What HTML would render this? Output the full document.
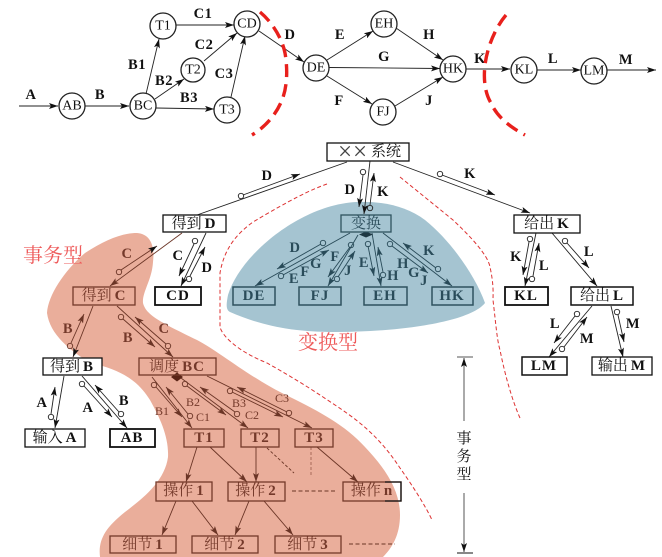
<!DOCTYPE html>
<html lang="zh"><head><meta charset="utf-8"><title>变换型与事务型结构图</title>
<style>
html,body{margin:0;padding:0;background:#fff}
svg{display:block}
.l{fill:none;stroke:#222;stroke-width:.9}
.b{fill:none;stroke:#284a58;stroke-width:.9}
.r{fill:none;stroke:#6b3526;stroke-width:.9}
.c{fill:#fff;stroke:#222;stroke-width:1.3}
.o{fill:none;stroke-width:.9}
text{font-family:"Liberation Serif","Noto Serif CJK SC",serif}
.n{font-size:14px;text-anchor:middle;dominant-baseline:central;fill:#111}
.t{font-size:14.5px;font-weight:bold;text-anchor:middle;dominant-baseline:central;fill:#111;letter-spacing:.5px}
.tb{fill:#2a4c5a}.tr{fill:#74392a}
.box{font-size:15px;text-anchor:middle;dominant-baseline:central;fill:#111}
.box tspan{font-weight:bold;letter-spacing:1px}
.boxb{fill:#2a4c5a}.boxr{fill:#74392a}
</style></head><body>
<svg xmlns="http://www.w3.org/2000/svg" width="662" height="557" viewBox="0 0 662 557">
<defs>
<marker id="ak" markerUnits="userSpaceOnUse" markerWidth="10" markerHeight="6" refX="9" refY="3" orient="auto"><path d="M0 0L9 3L0 6L2 3Z" fill="#111"/></marker>
<marker id="ab" markerUnits="userSpaceOnUse" markerWidth="10" markerHeight="6" refX="9" refY="3" orient="auto"><path d="M0 0L9 3L0 6L2 3Z" fill="#284a58"/></marker>
<marker id="ar" markerUnits="userSpaceOnUse" markerWidth="10" markerHeight="6" refX="9" refY="3" orient="auto"><path d="M0 0L9 3L0 6L2 3Z" fill="#6b3526"/></marker>
</defs>
<rect width="662" height="557" fill="#fff"/>

<!-- regions -->
<path fill="#a5c4d1" d="M356 202C300 205 240 255 228 295C226 305 226 310 230 312C260 325 290 332 335 332C400 332 470 322 485 303C475 275 450 240 425 220C405 205 380 201 356 202Z"/>
<path fill="#eaae9b" d="M137 233C150 234 155 245 153 262C152 280 142 292 143 303C146 315 160 322 197 340C220 352 250 378 290 397C320 412 345 425 365 447C385 468 400 490 400 515C400 535 392 548 383 557L100 557C98 540 105 528 125 512C145 497 165 480 168 457C169 437 160 418 150 400C140 384 125 370 90 363C70 350 50 335 47 313C48 295 65 270 85 253C105 240 122 233 137 233Z"/>
<path fill="none" stroke="#dd3333" stroke-width="1" stroke-dasharray="4 2.5" d="M327 184C310 190 290 200 253 222C235 235 224 250 220 273L220 327C222 335 235 350 267 363C285 373 305 385 323 397C350 415 375 430 400 468C412 485 425 505 432 520"/>
<path fill="none" stroke="#dd3333" stroke-width="1" stroke-dasharray="4 2.5" d="M400 177L453 220C470 236 488 255 490 267C494 285 493 295 493 300C496 325 497 340 500 350C505 375 512 400 520 418"/>

<!-- top graph -->
<g>
<path class="l" marker-end="url(#ak)" d="M19 106H58"/>
<path class="l" marker-end="url(#ak)" d="M85 106H129"/>
<path class="l" marker-end="url(#ak)" d="M146 94L159 39"/>
<path class="l" marker-end="url(#ak)" d="M155 99L184 79"/>
<path class="l" marker-end="url(#ak)" d="M156 108L214 109"/>
<path class="l" marker-end="url(#ak)" d="M176 25H234"/>
<path class="l" marker-end="url(#ak)" d="M204 61L237 33"/>
<path class="l" marker-end="url(#ak)" d="M231 97L245 36"/>
<path class="l" marker-end="url(#ak)" d="M259 31L304 62"/>
<path class="l" marker-end="url(#ak)" d="M327 60L373 31"/>
<path class="l" marker-end="url(#ak)" d="M329 67.500L440 68.500"/>
<path class="l" marker-end="url(#ak)" d="M327 76L372 104"/>
<path class="l" marker-end="url(#ak)" d="M396 28L443 60"/>
<path class="l" marker-end="url(#ak)" d="M395 106L443 77"/>
<path class="l" marker-end="url(#ak)" d="M466 69H510"/>
<path class="l" marker-end="url(#ak)" d="M537 70H581"/>
<path class="l" marker-end="url(#ak)" d="M607 70H656"/>
<circle class="c" cx="72" cy="106" r="13"/><text class="n" x="72" y="106">AB</text>
<circle class="c" cx="143" cy="106" r="13"/><text class="n" x="143" y="106">BC</text>
<circle class="c" cx="163" cy="26" r="13"/><text class="n" x="163" y="26">T1</text>
<circle class="c" cx="193" cy="70" r="12"/><text class="n" x="193" y="70">T2</text>
<circle class="c" cx="227" cy="110" r="13"/><text class="n" x="227" y="110">T3</text>
<circle class="c" cx="247" cy="24" r="13"/><text class="n" x="247" y="24">CD</text>
<circle class="c" cx="316" cy="68" r="13"/><text class="n" x="316" y="68">DE</text>
<circle class="c" cx="384" cy="24" r="13"/><text class="n" x="384" y="24">EH</text>
<circle class="c" cx="383" cy="112" r="13"/><text class="n" x="383" y="112">FJ</text>
<circle class="c" cx="453" cy="69" r="13"/><text class="n" x="453" y="69">HK</text>
<circle class="c" cx="524" cy="70" r="13"/><text class="n" x="524" y="70">KL</text>
<circle class="c" cx="594" cy="71" r="13"/><text class="n" x="594" y="71">LM</text>
<g>
<text class="t" x="31" y="95">A</text><text class="t" x="100" y="95">B</text>
<text class="t" x="137" y="65">B1</text><text class="t" x="164" y="81">B2</text><text class="t" x="189" y="98">B3</text>
<text class="t" x="203" y="14">C1</text><text class="t" x="204" y="45">C2</text><text class="t" x="224" y="74">C3</text>
<text class="t" x="290" y="35">D</text><text class="t" x="340" y="35">E</text><text class="t" x="384" y="57">G</text><text class="t" x="339" y="101">F</text>
<text class="t" x="429" y="35">H</text><text class="t" x="429" y="101">J</text><text class="t" x="480" y="59">K</text><text class="t" x="553" y="59">L</text><text class="t" x="626" y="60">M</text>
</g>
</g>
<path fill="none" stroke="#e8201c" stroke-width="3.4" stroke-dasharray="13 7" d="M260 12C272 22 282 38 285 53C288 70 287 88 282 100C276 115 265 127 252 135"/>
<path fill="none" stroke="#e8201c" stroke-width="3.4" stroke-dasharray="13 7" d="M506 15C495 28 487 48 485 65C483 82 486 95 491 103C497 117 510 127 525 135"/>

<!-- top-level edges -->
<g>
<path class="l" d="M347 162L197 215"/>
<path class="l" marker-end="url(#ak)" d="M393 162L530 213"/>
<path class="l" marker-end="url(#ak)" d="M370 161L364 214"/>
<path class="l" marker-end="url(#ak)" d="M243 195L300 174"/>
<circle class="o" stroke="#222" cx="241" cy="196" r="2.700"/>
<path class="l" marker-end="url(#ak)" d="M442 175L495 195"/>
<circle class="o" stroke="#222" cx="440" cy="174" r="2.700"/>
<path class="l" marker-end="url(#ak)" d="M363 175L359 207"/>
<circle class="o" stroke="#222" cx="363" cy="172" r="2.700"/>
<path class="l" marker-end="url(#ak)" d="M370 205L374 173"/>
<circle class="o" stroke="#222" cx="370" cy="208" r="2.700"/>
<text class="t" x="267" y="176">D</text><text class="t" x="470" y="174">K</text><text class="t" x="350" y="190">D</text><text class="t" x="383" y="192">K</text>
</g>

<!-- transform group -->
<g>
<path class="b" marker-end="url(#ab)" d="M350 233L255 286"/>
<path class="b" marker-end="url(#ab)" d="M358 235L328 286"/>
<path class="b" marker-end="url(#ab)" d="M372 233L381 286"/>
<path class="b" marker-end="url(#ab)" d="M383 233L452 286"/>
<path class="b" marker-end="url(#ab)" d="M321 244L277 269"/><circle class="o" stroke="#284a58" cx="323" cy="243" r="2.700"/>
<path class="b" marker-end="url(#ab)" d="M283 275L329 250"/><circle class="o" stroke="#284a58" cx="281" cy="276" r="2.700"/>
<path class="b" marker-end="url(#ab)" d="M350 247L328 277"/><circle class="o" stroke="#284a58" cx="351" cy="245" r="2.700"/>
<path class="b" marker-end="url(#ab)" d="M338 277L355 251"/><circle class="o" stroke="#284a58" cx="337" cy="279" r="2.700"/>
<path class="b" marker-end="url(#ab)" d="M368 246L374 276"/><circle class="o" stroke="#284a58" cx="368" cy="244" r="2.700"/>
<path class="b" marker-end="url(#ab)" d="M383 272L378 247"/><circle class="o" stroke="#284a58" cx="383" cy="275" r="2.700"/>
<path class="b" marker-end="url(#ab)" d="M436 268L403 243"/><circle class="o" stroke="#284a58" cx="438" cy="269" r="2.700"/>
<path class="b" marker-end="url(#ab)" d="M392 246L428 273"/><circle class="o" stroke="#284a58" cx="390" cy="244" r="2.700"/>
<path fill="#1e3844" d="M359 234.500L366 231.500L373 234.500L366 237.500Z"/>
<text class="t tb" x="295" y="248">D</text><text class="t tb" x="316" y="264">G</text><text class="t tb" x="305" y="272">F</text><text class="t tb" x="294" y="279">E</text>
<text class="t tb" x="335" y="257">F</text><text class="t tb" x="348" y="271">J</text><text class="t tb" x="364" y="263">E</text><text class="t tb" x="393" y="276">H</text>
<text class="t tb" x="403" y="264">H</text><text class="t tb" x="414" y="273">G</text><text class="t tb" x="424" y="281">J</text><text class="t tb" x="429" y="251">K</text>
</g>

<!-- transaction group -->
<g>
<path class="r" marker-end="url(#ar)" d="M182 233L110 286"/>
<path class="l" marker-end="url(#ak)" d="M206 233L181 286"/>
<path class="r" marker-end="url(#ak)" d="M121 270L157 246"/><circle class="o" stroke="#6b3526" cx="119" cy="272" r="2.700"/>
<path class="l" marker-end="url(#ak)" d="M194 244L179 276"/><circle class="o" stroke="#222" cx="195" cy="241" r="2.700"/>
<path class="l" marker-end="url(#ak)" d="M190 276L205 247"/><circle class="o" stroke="#222" cx="189" cy="279" r="2.700"/>
<path class="r" marker-end="url(#ak)" d="M93 306L73 357"/>
<path class="r" marker-end="url(#ar)" d="M117 306L173 357"/>
<path class="r" marker-end="url(#ar)" d="M71 343L84 314"/><circle class="o" stroke="#6b3526" cx="70" cy="346" r="2.700"/>
<path class="r" marker-end="url(#ar)" d="M123 319L155 347"/><circle class="o" stroke="#6b3526" cx="121" cy="317" r="2.700"/>
<path class="r" marker-end="url(#ar)" d="M166 344L135 317"/><circle class="o" stroke="#6b3526" cx="168" cy="346" r="2.700"/>
<path class="l" marker-end="url(#ak)" d="M64 376L55 428"/>
<path class="l" marker-end="url(#ak)" d="M82 376L127 428"/>
<path class="l" marker-end="url(#ak)" d="M51 414L55 387"/><circle class="o" stroke="#222" cx="51" cy="417" r="2.700"/>
<path class="l" marker-end="url(#ak)" d="M84 386L112 417"/><circle class="o" stroke="#222" cx="82" cy="384" r="2.700"/>
<path class="l" marker-end="url(#ak)" d="M119 412L95 385"/><circle class="o" stroke="#222" cx="121" cy="414" r="2.700"/>
<path class="r" marker-end="url(#ar)" d="M152 377L192 428"/>
<path class="r" marker-end="url(#ar)" d="M177 375L248 428"/>
<path class="r" marker-end="url(#ar)" d="M207 376L312 428"/>
<path class="r" marker-end="url(#ar)" d="M156 387L182 417"/><circle class="o" stroke="#6b3526" cx="154" cy="385" r="2.700"/>
<path class="r" marker-end="url(#ar)" d="M188 414L166 387"/><circle class="o" stroke="#6b3526" cx="190" cy="416" r="2.700"/>
<path class="r" marker-end="url(#ar)" d="M187 386L226 415"/><circle class="o" stroke="#6b3526" cx="185" cy="384" r="2.700"/>
<path class="r" marker-end="url(#ar)" d="M235 412L200 387"/><circle class="o" stroke="#6b3526" cx="237" cy="414" r="2.700"/>
<path class="r" marker-end="url(#ar)" d="M232 392L283 417"/><circle class="o" stroke="#6b3526" cx="230" cy="391" r="2.700"/>
<path class="r" marker-end="url(#ar)" d="M287 412L237 387"/><circle class="o" stroke="#6b3526" cx="289" cy="413" r="2.700"/>
<path fill="#5a2416" d="M171 377L177 372.500L183 377L177 381.500Z"/>
<path class="r" marker-end="url(#ar)" d="M197 447L186 482"/>
<path class="r" marker-end="url(#ar)" d="M210 447L247 482"/>
<path class="r" marker-end="url(#ar)" d="M256 447V482"/>
<path class="r" stroke-dasharray="3 2" d="M267 448L294 473"/>
<path fill="none" stroke="#c98c7a" stroke-width="2" stroke-dasharray="3 2" d="M311 447V475"/>
<path class="r" marker-end="url(#ar)" d="M317 447L358 482"/>
<path class="r" marker-end="url(#ar)" d="M176 501L162 535"/>
<path class="r" marker-end="url(#ar)" d="M192 501L218 535"/>
<path class="r" marker-end="url(#ar)" d="M249 501L235 535"/>
<path class="r" marker-end="url(#ar)" d="M264 501L293 535"/>
<path class="r" stroke-dasharray="4 2.500" d="M292 491H335"/>
<path class="r" stroke-dasharray="4 2.500" d="M349 544H395"/>
<text class="t tr" x="127" y="254">C</text><text class="t" x="178" y="256">C</text><text class="t" x="207" y="268">D</text>
<text class="t tr" x="68" y="329">B</text><text class="t tr" x="128" y="338">B</text><text class="t tr" x="164" y="329">C</text>
<text class="t" x="42" y="403">A</text><text class="t" x="88" y="408">A</text><text class="t" x="124" y="401">B</text>
<text class="n tr" style="font-size:12px" x="162" y="411">B1</text><text class="n tr" style="font-size:12px" x="193" y="402">B2</text><text class="n tr" style="font-size:12px" x="203" y="417">C1</text>
<text class="n tr" style="font-size:12px" x="239" y="403">B3</text><text class="n tr" style="font-size:12px" x="252" y="415">C2</text><text class="n tr" style="font-size:12px" x="282" y="398">C3</text>
</g>

<!-- right branch -->
<g>
<path class="l" marker-end="url(#ak)" d="M536 233L525 286"/>
<path class="l" marker-end="url(#ak)" d="M552 233L597 286"/>
<path class="l" marker-end="url(#ak)" d="M529 242L523 275"/><circle class="o" stroke="#222" cx="530" cy="239" r="2.700"/>
<path class="l" marker-end="url(#ak)" d="M533 276L539 243"/><circle class="o" stroke="#222" cx="532" cy="279" r="2.700"/>
<path class="l" marker-end="url(#ak)" d="M567 243L589 268"/><circle class="o" stroke="#222" cx="565" cy="241" r="2.700"/>
<path class="l" marker-end="url(#ak)" d="M592 306L549 357"/>
<path class="l" marker-end="url(#ak)" d="M611 306L623 357"/>
<path class="l" marker-end="url(#ak)" d="M575 316L554 343"/><circle class="o" stroke="#222" cx="577" cy="314" r="2.700"/>
<path class="l" marker-end="url(#ak)" d="M564 347L587 317"/><circle class="o" stroke="#222" cx="562" cy="349" r="2.700"/>
<path class="l" marker-end="url(#ak)" d="M618 315L624 342"/><circle class="o" stroke="#222" cx="617" cy="312" r="2.700"/>
<text class="t" x="516" y="257">K</text><text class="t" x="544" y="266">L</text><text class="t" x="589" y="252">L</text><text class="t" x="555" y="324">L</text><text class="t" x="587" y="339">M</text><text class="t" x="633" y="324">M</text>
</g>

<!-- boxes -->
<g stroke-linejoin="miter">
<rect x="327" y="143" width="82" height="18" fill="#fff" stroke="#111" stroke-width="1.300"/><text class="box" x="345" y="152" style="font-size:25px;fill:#444">×</text><text class="box" x="360" y="152" style="font-size:25px;fill:#444">×</text><text class="box" x="386" y="152">系统</text>
<rect x="341" y="215" width="50" height="17" fill="none" stroke="#2e525f" stroke-width="1.300"/><text class="box boxb" x="366" y="224">变换</text>
<rect x="233" y="287" width="42" height="18" fill="none" stroke="#2e525f" stroke-width="1.500"/><text class="box boxb" x="254" y="296"><tspan>DE</tspan></text>
<rect x="299" y="287" width="42" height="18" fill="none" stroke="#2e525f" stroke-width="1.500"/><text class="box boxb" x="320" y="296"><tspan>FJ</tspan></text>
<rect x="364" y="287" width="43" height="18" fill="none" stroke="#2e525f" stroke-width="1.500"/><text class="box boxb" x="385" y="296"><tspan>EH</tspan></text>
<rect x="432" y="287" width="41" height="18" fill="none" stroke="#2e525f" stroke-width="1.500"/><text class="box boxb" x="452" y="296"><tspan>HK</tspan></text>
<rect x="163" y="215" width="63" height="17" fill="#fff" stroke="#111" stroke-width="1.300"/><text class="box" x="194" y="224">得到<tspan dx="3">D</tspan></text>
<rect x="155" y="287" width="46" height="18" fill="#fff" stroke="#111" stroke-width="1.800"/><text class="box" x="178" y="296"><tspan>CD</tspan></text>
<rect x="73" y="287" width="62" height="18" fill="none" stroke="#74392a" stroke-width="1.300"/><text class="box boxr" x="104" y="296">得到<tspan dx="3">C</tspan></text>
<rect x="43" y="358" width="59" height="17" fill="#fff" stroke="#111" stroke-width="1.300"/><text class="box" x="72" y="367">得到<tspan dx="3">B</tspan></text>
<rect x="139" y="358" width="77" height="17" fill="none" stroke="#74392a" stroke-width="1.300"/><text class="box boxr" x="177" y="367">调度<tspan dx="3">BC</tspan></text>
<rect x="25" y="429" width="60" height="18" fill="#fff" stroke="#111" stroke-width="1.300"/><text class="box" x="55" y="438">输入<tspan dx="3">A</tspan></text>
<rect x="110" y="429" width="45" height="18" fill="#fff" stroke="#111" stroke-width="1.800"/><text class="box" x="132" y="438"><tspan>AB</tspan></text>
<rect x="184" y="429" width="40" height="18" fill="none" stroke="#74392a" stroke-width="1.300"/><text class="box boxr" x="204" y="438"><tspan>T1</tspan></text>
<rect x="241" y="429" width="38" height="18" fill="none" stroke="#74392a" stroke-width="1.300"/><text class="box boxr" x="260" y="438"><tspan>T2</tspan></text>
<rect x="295" y="429" width="38" height="18" fill="none" stroke="#74392a" stroke-width="1.300"/><text class="box boxr" x="314" y="438"><tspan>T3</tspan></text>
<rect x="156" y="482" width="56" height="19" fill="none" stroke="#74392a" stroke-width="1.300"/><text class="box boxr" x="184" y="491">操作<tspan dx="3">1</tspan></text>
<rect x="228" y="482" width="57" height="19" fill="none" stroke="#74392a" stroke-width="1.300"/><text class="box boxr" x="256" y="491">操作<tspan dx="3">2</tspan></text>
<rect x="343" y="482" width="58" height="19" fill="none" stroke="#74392a" stroke-width="1.300"/><text class="box boxr" x="372" y="491">操作<tspan dx="3">n</tspan></text>
<path fill="none" stroke="#111" stroke-width="1.300" d="M385 482H401V501H385"/>
<rect x="110" y="536" width="66" height="17" fill="none" stroke="#74392a" stroke-width="1.300"/><text class="box boxr" x="143" y="545">细节<tspan dx="3">1</tspan></text>
<rect x="192" y="536" width="66" height="17" fill="none" stroke="#74392a" stroke-width="1.300"/><text class="box boxr" x="225" y="545">细节<tspan dx="3">2</tspan></text>
<rect x="275" y="536" width="66" height="17" fill="none" stroke="#74392a" stroke-width="1.300"/><text class="box boxr" x="308" y="545">细节<tspan dx="3">3</tspan></text>
<rect x="514" y="215" width="66" height="18" fill="#fff" stroke="#111" stroke-width="1.300"/><text class="box" x="547" y="224">给出<tspan dx="3">K</tspan></text>
<rect x="505" y="287" width="43" height="18" fill="#fff" stroke="#111" stroke-width="1.800"/><text class="box" x="526" y="296"><tspan>KL</tspan></text>
<rect x="571" y="287" width="62" height="18" fill="#fff" stroke="#111" stroke-width="1.500"/><text class="box" x="602" y="296">给出<tspan dx="3">L</tspan></text>
<rect x="522" y="357" width="45" height="18" fill="#fff" stroke="#111" stroke-width="1.500"/><text class="box" x="544" y="366"><tspan>LM</tspan></text>
<rect x="592" y="357" width="60" height="18" fill="#fff" stroke="#111" stroke-width="1.300"/><text class="box" x="622" y="366">输出<tspan dx="3">M</tspan></text>
</g>

<!-- annotations -->
<text x="23" y="262" font-size="20" fill="#ee5a5a" style="font-family:'Noto Serif CJK SC',serif">事务型</text>
<text x="298" y="349" font-size="20" fill="#ee5a5a" style="font-family:'Noto Serif CJK SC',serif">变换型</text>
<g>
<path fill="none" stroke="#555" stroke-width="1" d="M457 357H473"/>
<path fill="none" stroke="#555" stroke-width="1" marker-end="url(#ak)" d="M464 421V358"/>
<path fill="none" stroke="#555" stroke-width="1" marker-end="url(#ak)" d="M464 493V552"/>
<path fill="none" stroke="#111" stroke-width="1" d="M457 553H473"/>
<text class="box" x="464" y="439">事</text><text class="box" x="464" y="457">务</text><text class="box" x="464" y="475">型</text>
</g>
</svg>
</body></html>
